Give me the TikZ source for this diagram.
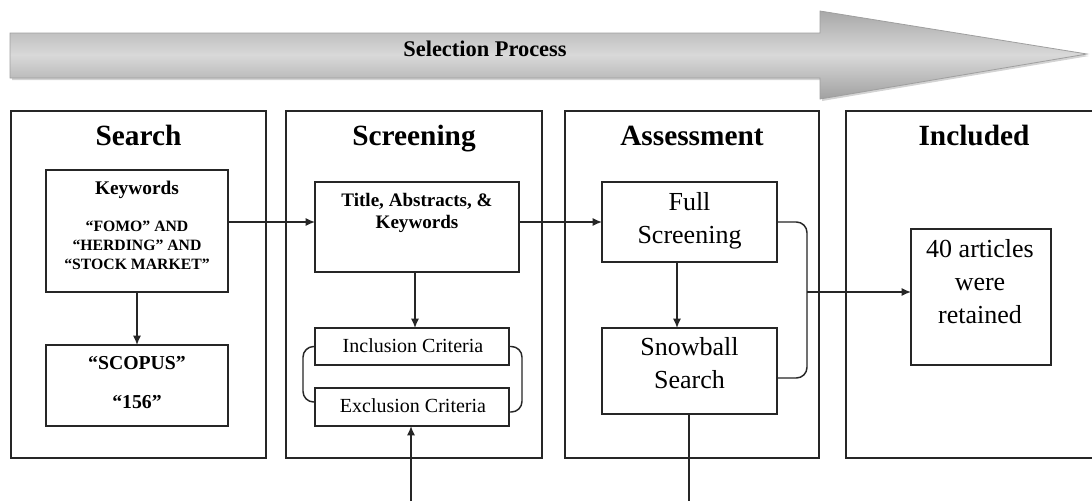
\documentclass[tikz,border=0pt]{standalone}
\usepackage{fontspec}
\setmainfont{Liberation Serif}
\usetikzlibrary{arrows.meta,shadows,fit,calc}
\begin{document}
\begin{tikzpicture}[x=0.75pt,y=-0.75pt,
  ln/.style={draw=black!85, line width=1.1pt},
  panel/.style={ln, fill=white, inner sep=0pt, outer sep=0pt},
  box/.style={ln, fill=white, inner sep=0pt, outer sep=0pt},
  arr/.style={ln, -{Latex[length=7pt,width=6pt]}},
  con/.style={ln, rounded corners=8pt},
  txt/.style={anchor=base, inner sep=0pt, align=center},
  ttl/.style={txt, font=\fontsize{22}{26}\selectfont\bfseries},
  big/.style={txt, font=\fontsize{19.5}{24.2}\selectfont},
]
\useasboundingbox (0,0) rectangle (1092,501);

% big process arrow
\path[draw=gray!75, line width=0.6pt, top color=gray!68, bottom color=gray!74, middle color=gray!30,
  drop shadow={shadow xshift=1.5pt, shadow yshift=-1.5pt, opacity=0.35}]
  (10,33) -- (820,33) -- (820,11) -- (1087,54) -- (820,99) -- (820,78) -- (10,78) -- cycle;
\node[txt, font=\fontsize{16.8}{20}\selectfont\bfseries] (sel) at (485,56) {Selection Process};

% panels
\node[panel, fit={(11,111) (266,458)}] (psearch) {};
\node[panel, fit={(286,111) (542,458)}] (pscreen) {};
\node[panel, fit={(565,111) (819,458)}] (passess) {};
\node[inner sep=0pt, outer sep=0pt, fit={(846,111) (1092,458)}] (pincl) {};
\draw[ln] (pincl.north east) -- (pincl.north west) -- (pincl.south west) -- (pincl.south east);

\node[ttl] (tsearch) at (138.5,145) {Search};
\node[ttl] (tscreen) at (414,145) {Screening};
\node[ttl] (tassess) at (692,145) {Assessment};
\node[ttl] (tincl) at (974,145) {Included};

% boxes
\node[box, fit={(46,170) (228,292)}] (kw) {};
\node[box, fit={(46,345) (228,426)}] (scopus) {};
\node[box, fit={(315,182) (519,272)}] (tab) {};
\node[box, fit={(315,328) (509,365)}] (incl) {};
\node[box, fit={(315,388) (509,426)}] (excl) {};
\node[box, fit={(602,182) (777,262)}] (fs) {};
\node[box, fit={(602,328) (777,414)}] (sb) {};
\node[box, fit={(911,229) (1051,365)}] (ret) {};

% texts (anchor base = baseline of the last line)
\node[txt, font=\fontsize{14.5}{17}\selectfont\bfseries] (kwt) at (137,194) {Keywords};
\node[txt, font=\fontsize{11.8}{14.25}\selectfont\bfseries] (kwq) at (137,269)
  {“FOMO” AND\\“HERDING” AND\\“STOCK MARKET”};
\node[txt, font=\fontsize{14.8}{17}\selectfont\bfseries] (sc1) at (137,369) {“SCOPUS”};
\node[txt, font=\fontsize{14.8}{17}\selectfont\bfseries] (sc2) at (137,408) {“156”};
\node[txt, font=\fontsize{14.3}{16.5}\selectfont\bfseries] (tabt) at (417,228) {Title, Abstracts, \&\\Keywords};
\node[txt, font=\fontsize{15}{18}\selectfont] (inct) at (413,352) {Inclusion Criteria};
\node[txt, font=\fontsize{15}{18}\selectfont] (exct) at (413,412) {Exclusion Criteria};
\node[big] (fst) at (689.5,243) {Full\\Screening};
\node[big] (sbt) at (689.5,388) {Snowball\\Search};
\node[big, font=\fontsize{19.5}{24.7}\selectfont] (rett) at (980,323) {40 articles\\were\\retained};

% connectors
\path (kw.east) ++(0,-9) coordinate (k1);
\draw[arr] (k1) -- (k1 -| tab.west);
\draw[arr] (kw.south) -- (scopus.north);
\draw[arr] (fs.west -| tab.east) -- (fs.west);
\path (tab.south) ++(-2,0) coordinate (t1);
\draw[arr] (t1) -- (t1 |- incl.north);
\path (excl.west) ++(0,-5) coordinate (e1);
\draw[con] (incl.west) -- ++(-12,0) |- (e1);
\path (excl.east) ++(0,5) coordinate (e2);
\draw[con] (incl.east) -- ++(13,0) |- (e2);
\path (excl.south) ++(-1,75) coordinate (bot1);
\draw[arr] (bot1) -- (bot1 |- excl.south);
\path (fs.south) ++(-12.5,0) coordinate (f1);
\draw[arr] (f1) -- (f1 |- sb.north);
\path (sb.east) ++(0,7) coordinate (s1);
\draw[con] (fs.east) -- ++(30,0) coordinate (b1) |- (s1);
\path (ret.west) ++(0,-5) coordinate (r1);
\draw[arr] (r1 -| b1) -- (r1);
\path (sb.south) ++(-0.5,0) coordinate (sbs);
\path (sbs) ++(0,87) coordinate (bot2);
\draw[ln] (sbs) -- (bot2);
\end{tikzpicture}
\end{document}
